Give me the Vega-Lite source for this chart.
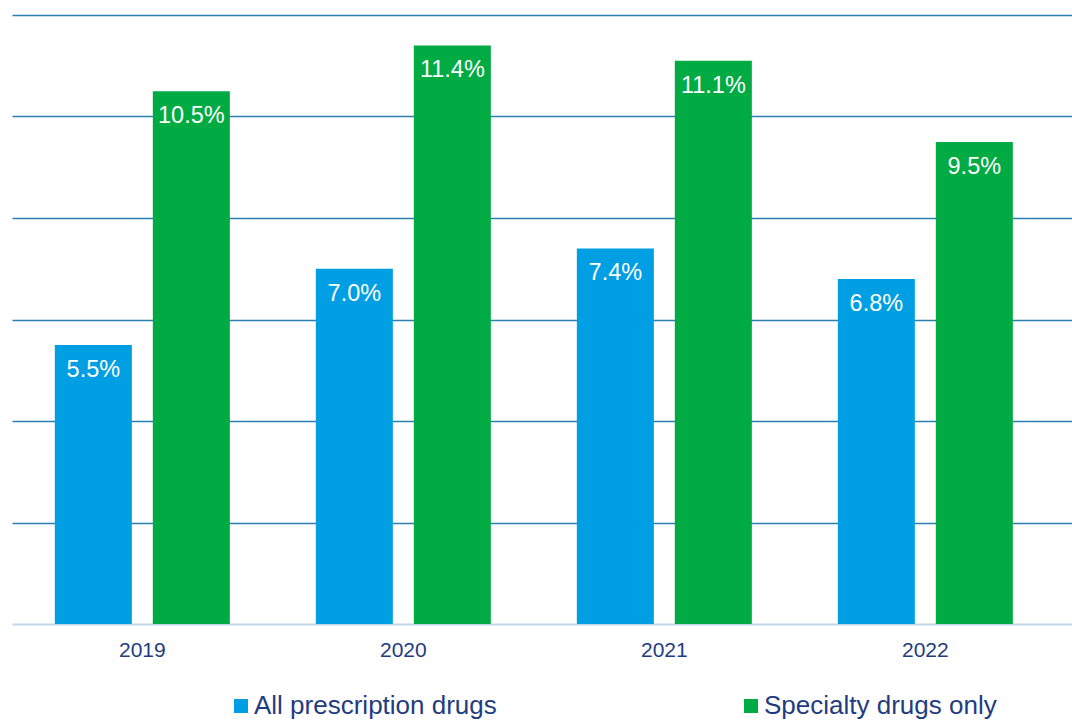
{
  "$schema": "https://vega.github.io/schema/vega-lite/v6.json",
  "autosize": {"type": "none"},
  "padding": {"left": 12, "top": 15, "right": 0, "bottom": 96},
  "width": 1060,
  "height": 609,
  "background": "white",
  "config": {
    "view": {"stroke": null},
    "font": "Liberation Sans",
    "text": {"font": "Liberation Sans"}
  },
  "data": {
    "values": [
      {"year": "2019", "series": "All prescription drugs", "value": 5.5, "label": "5.5%"},
      {"year": "2019", "series": "Specialty drugs only", "value": 10.5, "label": "10.5%"},
      {"year": "2020", "series": "All prescription drugs", "value": 7.0, "label": "7.0%"},
      {"year": "2020", "series": "Specialty drugs only", "value": 11.4, "label": "11.4%"},
      {"year": "2021", "series": "All prescription drugs", "value": 7.4, "label": "7.4%"},
      {"year": "2021", "series": "Specialty drugs only", "value": 11.1, "label": "11.1%"},
      {"year": "2022", "series": "All prescription drugs", "value": 6.8, "label": "6.8%"},
      {"year": "2022", "series": "Specialty drugs only", "value": 9.5, "label": "9.5%"}
    ]
  },
  "encoding": {
    "x": {
      "field": "year",
      "type": "nominal",
      "scale": {"paddingInner": 0.3295, "paddingOuter": 0.1954, "align": 0.42},
      "axis": {
        "title": null,
        "labelAngle": 0,
        "labelFontSize": 21,
        "labelColor": "#1F3C80",
        "labelFont": "Liberation Sans",
        "labelPadding": 15,
        "ticks": false,
        "domain": true,
        "domainColor": "#BDD7EE",
        "domainWidth": 2,
        "grid": false
      }
    },
    "xOffset": {
      "field": "series",
      "type": "nominal",
      "scale": {"paddingInner": 0.214, "paddingOuter": 0}
    },
    "y": {
      "field": "value",
      "type": "quantitative",
      "scale": {"domain": [0, 12], "nice": false},
      "axis": {
        "title": null,
        "labels": false,
        "ticks": false,
        "domain": false,
        "grid": true,
        "values": [2, 4, 6, 8, 10, 12],
        "gridColor": "#2A80AE",
        "gridWidth": 1.5,
        "gridOpacity": 1
      }
    }
  },
  "layer": [
    {
      "mark": {"type": "bar"},
      "encoding": {
        "color": {
          "field": "series",
          "type": "nominal",
          "scale": {
            "domain": ["All prescription drugs", "Specialty drugs only"],
            "range": ["#009FE3", "#00AB44"]
          },
          "legend": {
            "title": null,
            "orient": "none",
            "direction": "horizontal",
            "legendX": 216,
            "legendY": 678,
            "padding": 0,
            "symbolType": "square",
            "symbolSize": 196,
            "symbolStrokeWidth": 0,
            "symbolOpacity": 1,
            "labelFontSize": 26,
            "labelFont": "Liberation Sans",
            "labelColor": "#1F3C80",
            "labelOffset": 0,
            "labelLimit": 400,
            "columnPadding": 241
          }
        }
      }
    },
    {
      "mark": {"type": "text", "color": "white", "fontSize": 23.5, "baseline": "middle", "dy": 25, "font": "Liberation Sans"},
      "encoding": {
        "text": {"field": "label", "type": "nominal"}
      }
    }
  ]
}
